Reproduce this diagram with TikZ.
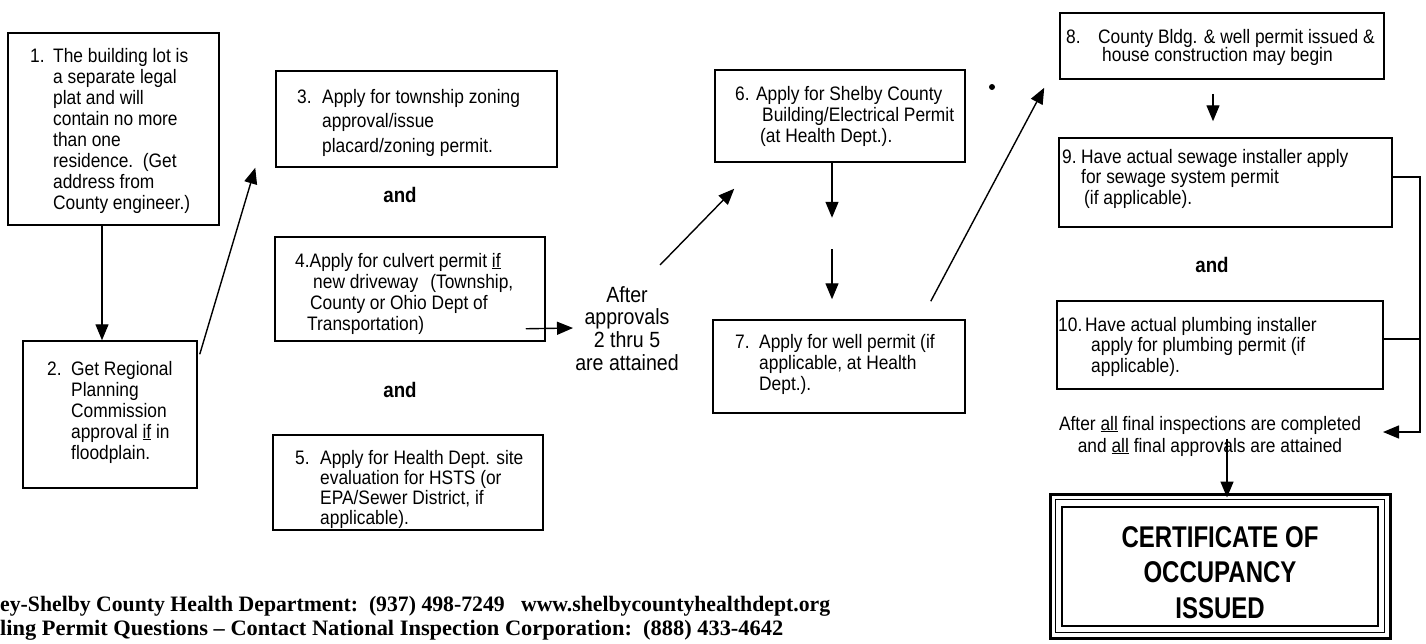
\documentclass[tikz,border=0pt]{standalone}
\usepackage{graphicx}
\usepackage{fontspec}
\setmainfont{Liberation Sans}[FakeStretch=0.89]
\newfontfamily\certfont{Liberation Sans}[FakeStretch=0.8]
\newfontfamily\footfont{Liberation Serif}
\usetikzlibrary{arrows.meta,calc}
\newcommand\nb[2]{\makebox[#1pt][l]{#2}}
\begin{document}
\begin{tikzpicture}[x=1pt,y=-1pt,
  box/.style={draw, line width=1.5pt, inner sep=0},
  txt/.style={inner sep=0, anchor=base west},
  ln/.style={line width=1.3pt},
  arr/.style={line width=1.4pt, -{Triangle[length=16pt,width=13pt]}},
  andlbl/.style={inner sep=0, anchor=base, font=\bfseries\fontsize{21}{21}\selectfont}]
\useasboundingbox (0,0) rectangle (1426,643);
\fill[white] (0,0) rectangle (1426,643);

% boxes
\node[box, minimum width=211pt, minimum height=192pt] (b1) at (113.5,129) {};
\node[box, minimum width=174pt, minimum height=147pt] (b2) at (110,414.5) {};
\node[box, minimum width=281pt, minimum height=96pt] (b3) at (416.5,119) {};
\node[box, minimum width=270pt, minimum height=104pt] (b4) at (410,289) {};
\node[box, minimum width=270pt, minimum height=95pt] (b5) at (408,482.5) {};
\node[box, minimum width=250pt, minimum height=92pt] (b6) at (840,116) {};
\node[box, minimum width=252pt, minimum height=93pt] (b7) at (839,366.5) {};
\node[box, minimum width=324pt, minimum height=66pt] (b8) at (1222,46) {};
\node[box, minimum width=333pt, minimum height=89pt] (b9) at (1225.5,182.5) {};
\node[box, minimum width=326pt, minimum height=88pt] (b10) at (1220,345) {};

% certificate frame
\node[draw, line width=3pt, inner sep=0, minimum width=340pt, minimum height=144pt] (cert) at (1220,566) {};
\node[draw, line width=0.8pt, inner sep=0, minimum width=329pt, minimum height=133pt] (certmid) at (cert.center) {};
\node[draw, line width=2.2pt, inner sep=0, minimum width=316pt, minimum height=119pt] (certin) at (1220,566.5) {};

% box texts
\begin{scope}[every node/.append style={font=\fontsize{19.5}{21}\selectfont}]
\node[txt] (t1) at (30,62) {\begin{tabular}[t]{@{}l@{}l@{}}\nb{23}{1.}&The building lot is\\
 &a separate legal\\ &plat and will\\ &contain no more\\ &than one\\ &residence.\ \ (Get\\ &address from\\ &County engineer.)\end{tabular}};
\node[txt] (t2) at (47,375) {\begin{tabular}[t]{@{}l@{}l@{}}\nb{24}{2.}&Get Regional\\
 &Planning\\ &Commission\\ &approval \underline{if} in\\ &floodplain.\end{tabular}};
\node[txt] (t4) at (295,267) {\begin{tabular}[t]{@{}l@{}}4.Apply for culvert permit \underline{if}\\
 \hspace{18pt}new driveway\hspace{12pt}(Township,\\ \hspace{15pt}County or Ohio Dept of\\ \hspace{12pt}Transportation)\end{tabular}};
\node[txt] (t6) at (735,100) {\begin{tabular}[t]{@{}l@{}}6. Apply for Shelby County\\
 \hspace{27pt}Building/Electrical Permit\\ \hspace{25pt}(at Health Dept.).\end{tabular}};
\node[txt] (t7) at (735,348) {\begin{tabular}[t]{@{}l@{}l@{}}\nb{24}{7.}&Apply for well permit (if\\
 &applicable, at Health\\ &Dept.).\end{tabular}};
\end{scope}
\node[txt, font=\fontsize{19.5}{24.5}\selectfont] (t3) at (297,103) {\begin{tabular}[t]{@{}l@{}l@{}}\nb{25}{3.}&Apply for township zoning\\
 &approval/issue\\ &placard/zoning permit.\end{tabular}};
\node[txt, font=\fontsize{19.5}{20}\selectfont] (t5) at (295,464) {\begin{tabular}[t]{@{}l@{}l@{}}\nb{25}{5.}&Apply for Health Dept. site\\
 &evaluation for HSTS (or\\ &EPA/Sewer District, if\\ &applicable).\end{tabular}};
\node[txt, font=\fontsize{19.5}{16}\selectfont] (t8) at (1066,43) {\begin{tabular}[t]{@{}l@{}l@{}}\nb{32}{8.}&County Bldg. \& well permit issued \&\\
 &\hspace{4pt}house construction may begin\end{tabular}};
\node[txt, font=\fontsize{19.5}{20.5}\selectfont] (t9) at (1062,163) {\begin{tabular}[t]{@{}l@{}l@{}}\nb{19}{9.}&Have actual sewage installer apply\\
 &for sewage system permit\\ &\hspace{3pt}(if applicable).\end{tabular}};
\node[txt, font=\fontsize{19.5}{20.5}\selectfont] (t10) at (1058,331) {\begin{tabular}[t]{@{}l@{}l@{}}\nb{27}{10.}&Have actual plumbing installer\\
 &\hspace{6pt}apply for plumbing permit (if\\ &\hspace{6pt}applicable).\end{tabular}};

% and labels
\node[andlbl] (and1) at (400,202) {and};
\node[andlbl] (and2) at (400,397) {and};
\node[andlbl] (and3) at (1212,272) {and};

% after approvals label
\node[inner sep=0, anchor=base, font=\fontsize{22}{22.6}\selectfont] (aft) at (627,302) {\begin{tabular}[t]{@{}c@{}}After\\ approvals\\ 2 thru 5\\ are attained\end{tabular}};

% final inspections text
\node[inner sep=0, anchor=base, font=\fontsize{19.5}{22}\selectfont] (fin) at (1210,430) {\begin{tabular}[t]{@{}c@{}}After \underline{all} final inspections are completed\\ and \underline{all} final approvals are attained\end{tabular}};

% certificate text
\node[inner sep=0, anchor=base, font=\certfont\bfseries\fontsize{30}{35.5}\selectfont] (ctext) at (1220,547) {\begin{tabular}[t]{@{}c@{}}CERTIFICATE OF\\ OCCUPANCY\\ ISSUED\end{tabular}};

% footer
\node[txt, font=\footfont\bfseries\fontsize{22}{24}\selectfont] (foot1) at (0,611) {\resizebox{830pt}{\height}{ey-Shelby County Health Department:\ \ (937) 498-7249\ \ \ www.shelbycountyhealthdept.org}};
\node[txt, font=\footfont\bfseries\fontsize{22}{24}\selectfont] (foot2) at (0,635) {\resizebox{783pt}{\height}{ling Permit Questions – Contact National Inspection Corporation:\ \ (888) 433-4642}};

% dot
\node[circle, fill, inner sep=0, minimum size=6pt] (dot) at (992,87) {};

% coordinates for free ends
\coordinate (a4s) at ($(b4.south east)+(-20,-13)$);
\coordinate (a4e) at (573,328);
\coordinate (a6s) at (660,265);
\coordinate (rtop) at (1420,177);
\coordinate (rbot) at (1420,432);
\coordinate (fintip) at (1383,432);

% connectors
\draw[arr] ([xshift=-11.5pt]b1.south) -- ([xshift=-8pt]b2.north);
\draw[arr] ($(b2.north east)+(2,14)$) -- ($(b3.south west)+(-20,0)$);
\draw[arr] (a4s) -- (a4e);
\draw[arr] (a6s) -- ($(b6.south west)+(20,26)$);
\draw[arr] ([xshift=-8pt]b6.south) -- ++(0,55);
\draw[arr] ($(b7.north)+(-7,-70)$) -- ($(b7.north)+(-7,-20)$);
\draw[arr] ($(b7.north east)+(-35,-18)$) -- ($(b8.south west)+(-15,8)$);
\draw[arr] ($(b8.south)+(-9,14)$) -- ($(b9.north)+(-12.5,-16)$);
\draw[arr] ([yshift=5.5pt]b9.east) -- (rtop) -- (rbot) -- (fintip);
\draw[ln] ([yshift=6pt]b10.east) -- ([yshift=6pt]b10.east -| rtop);
\draw[arr] ($(cert.north)+(7,-54)$) -- ($(cert.north)+(7,5)$);
\end{tikzpicture}
\end{document}
